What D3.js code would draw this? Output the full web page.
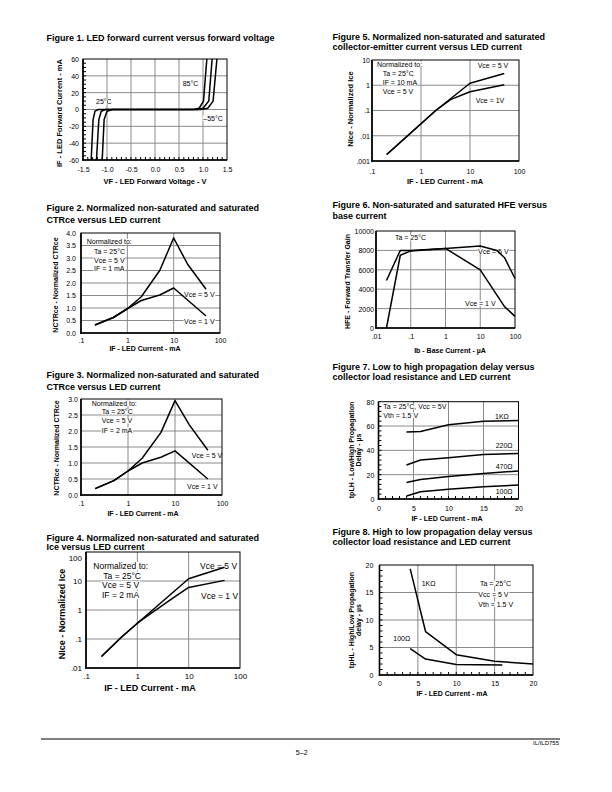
<!DOCTYPE html>
<html><head><meta charset="utf-8">
<script src="https://cdn.jsdelivr.net/npm/d3@7"></script>
<style>body{margin:0;background:#fff} text{font-family:"Liberation Sans",Arial,Helvetica,sans-serif}</style>
</head><body><svg id="c" width="612" height="792"></svg>
<script>
// ---------- DATA ----------
// Figure 1
const f1XTicks = [-1.5,-1.0,-0.5,0,0.5,1.0,1.5];
const f1XLabels = ["-1.5","-1.0","-0.5","0.0","0.5","1.0","1.5"];
const f1YTicks = [60,40,20,0,-20,-40,-60];
const f1YLabels = ["60","40","20","0","-20","-40","-60"];
const f1C85 = [[-1.33,-60],[-1.29,-12],[-1.25,-2],[-1.18,0],[0.80,0],[0.92,1.5],[1.01,10],[1.08,60]];
const f1C25 = [[-1.22,-60],[-1.17,-12],[-1.12,-2],[-1.03,0],[0.88,0],[1.00,1.5],[1.12,10],[1.19,60]];
const f1CM55 = [[-1.10,-60],[-1.06,-12],[-1.00,-2],[-0.88,0],[0.96,0],[1.10,1.5],[1.21,10],[1.29,60]];
// log axis ticks
const decX1 = [0.1,1,10,100];
const decX1Labels = [".1","1","10","100"];
// Figure 2
const f2YTicks = [0,0.5,1,1.5,2,2.5,3,3.5,4];
const f2YLabels = ["0.0","0.5","1.0","1.5","2.0","2.5","3.0","3.5","4.0"];
const f2Vce5 = [[0.2,0.32],[0.5,0.62],[1,0.97],[2,1.45],[5,2.5],[10,3.8],[20,2.75],[50,1.75]];
const f2Vce1 = [[0.2,0.32],[0.5,0.62],[1,0.97],[2,1.3],[5,1.52],[10,1.8],[50,0.68]];
// Figure 3
const f3YTicks = [0,0.5,1,1.5,2,2.5,3];
const f3YLabels = ["0.0","0.5","1.0","1.5","2.0","2.5","3.0"];
const f3Vce5 = [[0.2,0.2],[0.5,0.45],[1,0.75],[2,1.15],[5,1.95],[10,2.95],[20,2.2],[50,1.4]];
const f3Vce1 = [[0.2,0.2],[0.5,0.45],[1,0.75],[2,1.0],[5,1.18],[10,1.38],[50,0.5]];
// Figure 4
const f4YTicks = [0.01,0.1,1,10,100];
const f4YLabels = [".01",".1","1","10","100"];
const f4Vce5 = [[0.2,0.025],[0.5,0.12],[1,0.35],[10,12],[50,30]];
const f4Vce1 = [[0.2,0.025],[0.5,0.12],[1,0.35],[2,0.85],[5,2.6],[10,6],[50,10.5]];
// Figure 5
const f5YTicks = [0.001,0.01,0.1,1,10];
const f5YLabels = [".001",".01",".1","1","10"];
const f5Vce5 = [[0.2,0.0018],[1,0.03],[2,0.1],[10,1.2],[50,2.9]];
const f5Vce1 = [[0.2,0.0018],[1,0.03],[2,0.1],[4,0.27],[10,0.55],[50,1.05]];
// Figure 6
const f6XTicks = [0.01,0.1,1,10,100];
const f6XLabels = [".01",".1","1","10","100"];
const f6YTicks = [0,2000,4000,6000,8000,10000];
const f6YLabels = ["0","2000","4000","6000","8000","10000"];
const f6Vce5 = [[0.02,4900],[0.05,8000],[0.1,8000],[1,8200],[10,8450],[30,8000],[50,7250],[100,5100]];
const f6Vce1 = [[0.02,0],[0.05,7500],[0.1,7950],[1,8200],[10,6000],[50,2200],[100,1200]];
// Figure 7
const f7XTicks = [0,5,10,15,20];
const f7YTicks = [0,20,40,60,80];
const f7R1k = [[4,55],[6,55.5],[10,61],[15,64],[20,64.5]];
const f7R220 = [[4,28],[6,32],[10,34],[15,36.5],[20,37.5]];
const f7R470 = [[4,13.5],[6,16],[10,18.5],[15,21],[20,23]];
const f7R100 = [[4,2.5],[6,6],[10,8],[15,10],[20,11.5]];
// Figure 8
const f8XTicks = [0,5,10,15,20];
const f8YTicks = [0,5,10,15,20];
const f8R1k = [[4,19.3],[6,7.9],[10,3.7],[15,2.5],[20,2.0]];
const f8R100 = [[4,4.8],[6,2.9],[10,1.9],[16,1.8]];

// ---------- DRAWING ----------
const svg = d3.select("#c");
const FONT = '"Liberation Sans",Arial,Helvetica,sans-serif';

function addText(g, str, x, y, opt = {}) {
  const t = g.append("text").attr("x", x).attr("y", y).text(str)
    .attr("font-size", opt.fs || 7).attr("font-weight", opt.bold ? "bold" : "normal")
    .attr("text-anchor", opt.anchor || "start").attr("dominant-baseline", "central")
    .attr("fill", "#000");
  if (opt.rot) t.attr("transform", `rotate(-90,${x},${y})`);
  if (opt.bg) {
    const b = t.node().getBBox();
    g.insert("rect", () => t.node()).attr("x", b.x - 0.5).attr("y", b.y + 0.8)
      .attr("width", b.width + 1).attr("height", b.height - 1.6).attr("fill", "#fff");
  }
  return t;
}

function panel(o) {
  const g = svg.append("g");
  const x = (o.xlog ? d3.scaleLog() : d3.scaleLinear()).domain(o.xd).range([o.x0, o.x1]);
  const y = (o.ylog ? d3.scaleLog() : d3.scaleLinear()).domain(o.yd).range([o.y1, o.y0]);
  // grid
  g.append("g").selectAll("line").data(o.xgrid).join("line")
    .attr("x1", d => x(d)).attr("x2", d => x(d)).attr("y1", o.y0).attr("y2", o.y1)
    .attr("stroke", "#8a8a8a").attr("stroke-width", 1);
  g.append("g").selectAll("line").data(o.ygrid).join("line")
    .attr("y1", d => y(d)).attr("y2", d => y(d)).attr("x1", o.x0).attr("x2", o.x1)
    .attr("stroke", "#8a8a8a").attr("stroke-width", 1);
  // annotations
  (o.notes || []).forEach(n => addText(g, n[0], n[1], n[2], {fs: o.nfs || 7, bg: true}));
  // curves
  const line = d3.line().x(d => x(d[0])).y(d => y(d[1]));
  o.series.forEach(s => g.append("path").attr("d", line(s)).attr("fill", "none")
    .attr("stroke", "#000").attr("stroke-width", 1.5).attr("stroke-linejoin", "round"));
  // minor ticks
  if (o.xminor) g.append("g").selectAll("line").data(o.xminor).join("line")
    .attr("x1", d => x(d)).attr("x2", d => x(d)).attr("y1", o.y1).attr("y2", o.y1 - 3)
    .attr("stroke", "#000").attr("stroke-width", 1);
  if (o.yminor) g.append("g").selectAll("line").data(o.yminor).join("line")
    .attr("y1", d => y(d)).attr("y2", d => y(d)).attr("x1", o.x0).attr("x2", o.x0 + 3)
    .attr("stroke", "#000").attr("stroke-width", 1);
  // frame
  g.append("rect").attr("x", o.x0).attr("y", o.y0).attr("width", o.x1 - o.x0).attr("height", o.y1 - o.y0)
    .attr("fill", "none").attr("stroke", "#000").attr("stroke-width", 1);
  g.append("line").attr("x1", o.x0).attr("x2", o.x0).attr("y1", o.y0).attr("y2", o.y1 + 0.8)
    .attr("stroke", "#000").attr("stroke-width", 1.6);
  g.append("line").attr("x1", o.x0 - 0.8).attr("x2", o.x1).attr("y1", o.y1).attr("y2", o.y1)
    .attr("stroke", "#000").attr("stroke-width", 1.6);
  // axes labels
  const tfs = o.tfs || 7;
  const ay = g.append("g").attr("transform", `translate(${o.x0},0)`)
    .call(d3.axisLeft(y).tickValues(o.yt).tickFormat((d, i) => o.yl[i]).tickSize(0).tickPadding(o.x0 - o.ylx));
  ay.select(".domain").remove();
  ay.attr("font-size", tfs).attr("font-family", FONT);
  ay.selectAll("text").attr("dy", "0.35em");
  if (o.topNudge) ay.selectAll(".tick text").filter(d => d === o.yd[1]).attr("transform", `translate(0,${o.topNudge})`);
  const ax = g.append("g").attr("transform", `translate(0,${o.y1})`)
    .call(d3.axisBottom(x).tickValues(o.xt).tickFormat((d, i) => o.xl[i]).tickSize(0).tickPadding(o.xly - o.y1 - 0.35 * tfs));
  ax.select(".domain").remove();
  ax.attr("font-size", tfs).attr("font-family", FONT);
  ax.selectAll("text").attr("dy", "0.71em");
  // axis titles
  addText(g, o.xtitle, o.xtx, o.xty, {fs: o.afs || 7.5, bold: true, anchor: "middle"});
  o.ytitle.forEach((t, i) => addText(g, t, o.ytx[i], o.yty, {fs: o.afs || 7.5, bold: true, anchor: "middle", rot: true}));
  // figure titles
  o.title.forEach((t, i) => addText(g, t, o.tx, o.ty[i], {fs: 9, bold: true}));
}

const L = 46.5, R = 332.5;

panel({
  x0: 83, x1: 227, y0: 59, y1: 160, xd: [-1.5, 1.5], yd: [-60, 60],
  xgrid: [-1, -0.5, 0, 0.5, 1], ygrid: [-40, -20, 0, 20, 40],
  xminor: d3.range(-14, 15).map(v => v / 10), yminor: d3.range(-55, 60, 5),
  xt: f1XTicks, xl: f1XLabels, yt: f1YTicks, yl: f1YLabels, ylx: 79, xly: 169.5,
  series: [f1C85, f1C25, f1CM55],
  notes: [["85°C", 182.7, 83], ["25°C", 96, 101.7], ["\u201355°C", 203.3, 118.3]],
  xtitle: "VF - LED  Forward Voltage - V", xtx: 155, xty: 181.7,
  ytitle: ["IF - LED  Forward Current - mA"], ytx: [59], yty: 113,
  title: ["Figure 1.  LED forward current versus forward voltage"], tx: L, ty: [37.5]
});

panel({
  x0: 81, x1: 220, y0: 233, y1: 333, xlog: true, xd: [0.1, 100], yd: [0, 4],
  xgrid: [1, 10], ygrid: [0.5, 1, 1.5, 2, 2.5, 3, 3.5],
  xt: decX1, xl: decX1Labels, yt: f2YTicks, yl: f2YLabels, ylx: 76, xly: 340,
  series: [f2Vce5, f2Vce1],
  notes: [["Normalized to:", 86.7, 241.7], ["Ta = 25°C", 94, 251.7], ["Vce = 5 V", 94, 260],
          ["IF = 1 mA", 94, 268.3], ["Vce = 5 V", 184, 294], ["Vce = 1 V", 184, 321.7]],
  xtitle: "IF - LED Current - mA", xtx: 145, xty: 348.5,
  ytitle: ["NCTRce - Normalized CTRce"], ytx: [55], yty: 285, afs: 7,
  title: ["Figure 2.  Normalized non-saturated and saturated", "CTRce versus LED current"], tx: L, ty: [208, 219.8]
});

panel({
  x0: 81, x1: 222, y0: 399, y1: 495, xlog: true, xd: [0.1, 100], yd: [0, 3],
  xgrid: [1, 10], ygrid: [0.5, 1, 1.5, 2, 2.5],
  xt: decX1, xl: decX1Labels, yt: f3YTicks, yl: f3YLabels, ylx: 78, xly: 503,
  series: [f3Vce5, f3Vce1],
  notes: [["Normalized to:", 91.7, 403.3], ["Ta = 25°C", 101.7, 411.7], ["Vce = 5 V", 101.7, 420.7],
          ["IF = 2 mA", 101.7, 430], ["Vce = 5 V", 191.7, 455.5], ["Vce = 1 V", 187, 486.5]],
  xtitle: "IF - LED Current - mA", xtx: 143, xty: 513,
  ytitle: ["NCTRce - Normalized CTRce"], ytx: [56], yty: 448, afs: 7,
  title: ["Figure 3.  Normalized non-saturated and saturated", "CTRce versus LED current"], tx: L, ty: [375, 386.7]
});

panel({
  x0: 86, x1: 240, y0: 552, y1: 668, xlog: true, ylog: true, xd: [0.1, 100], yd: [0.01, 100],
  xgrid: [1, 10], ygrid: [0.1, 1, 10],
  xt: decX1, xl: decX1Labels, yt: f4YTicks, yl: f4YLabels, ylx: 82, xly: 676, tfs: 8, topNudge: 5.5,
  series: [f4Vce5, f4Vce1], nfs: 8.5,
  notes: [["Normalized to:", 93.3, 566], ["Ta = 25°C", 103.3, 575.7], ["Vce = 5 V", 102, 585.3],
          ["IF = 2 mA", 102, 595], ["Vce = 5 V", 200, 566], ["Vce = 1 V", 201, 595.7]],
  xtitle: "IF - LED Current - mA", xtx: 150, xty: 687.5, afs: 9,
  ytitle: ["NIce - Normalized Ice"], ytx: [62], yty: 614,
  title: ["Figure 4.  Normalized non-saturated and saturated", "Ice versus LED current"], tx: L, ty: [537.6, 546.6]
});

panel({
  x0: 372, x1: 519, y0: 60, y1: 161, xlog: true, ylog: true, xd: [0.1, 100], yd: [0.001, 10],
  xgrid: [1, 10], ygrid: [0.01, 0.1, 1],
  xt: decX1, xl: decX1Labels, yt: f5YTicks, yl: f5YLabels, ylx: 370, xly: 171,
  series: [f5Vce5, f5Vce1],
  notes: [["Normalized to:", 377, 64.3], ["Ta = 25°C", 382.7, 73.3], ["IF = 10 mA", 382.7, 82.7],
          ["Vce = 5 V", 382.7, 91.7], ["Vce = 5 V", 477.7, 65], ["Vce = 1V", 475.7, 100.7]],
  xtitle: "IF - LED Current - mA", xtx: 445, xty: 181.7,
  ytitle: ["NIce - Normalized Ice"], ytx: [350], yty: 109,
  title: ["Figure 5.  Normalized non-saturated and saturated", "collector-emitter current versus LED current"], tx: R, ty: [36.8, 47.3]
});

panel({
  x0: 376, x1: 515, y0: 231, y1: 328, xlog: true, xd: [0.01, 100], yd: [0, 10000],
  xgrid: [0.1, 1, 10], ygrid: [2000, 4000, 6000, 8000],
  xt: f6XTicks, xl: f6XLabels, yt: f6YTicks, yl: f6YLabels, ylx: 374, xly: 336.7,
  series: [f6Vce5, f6Vce1],
  notes: [["Ta = 25°C", 395, 237.7], ["Vce = 5 V", 478, 251.5], ["Vce = 1 V", 465, 303.3]],
  xtitle: "Ib - Base Current - \u00b5A", xtx: 450, xty: 350,
  ytitle: ["HFE - Forward Transfer Gain"], ytx: [347], yty: 281.5, afs: 7,
  title: ["Figure 6.  Non-saturated and saturated HFE versus", "base current"], tx: R, ty: [205, 215.8]
});

panel({
  x0: 378.5, x1: 518.5, y0: 401.7, y1: 499, xd: [0, 20], yd: [0, 80],
  xgrid: [5, 10, 15], ygrid: [20, 40, 60],
  xminor: d3.range(1, 20), yminor: d3.range(4, 80, 4),
  xt: f7XTicks, xl: f7XTicks.map(String), yt: f7YTicks, yl: f7YTicks.map(String), ylx: 374.3, xly: 508.3,
  series: [f7R1k, f7R220, f7R470, f7R100],
  notes: [["Ta = 25°C, Vcc = 5V", 383.3, 406.7], ["Vth = 1.5 V", 383.3, 415], ["1K\u03a9", 495, 416.7],
          ["220\u03a9", 495.7, 445], ["470\u03a9", 495.7, 466.7], ["100\u03a9", 495.7, 491.7]],
  xtitle: "IF - LED Current - mA", xtx: 447, xty: 518.5,
  ytitle: ["tpLH - Low/High Propagation", "Delay - \u00b5s"], ytx: [351.7, 358.5], yty: 450, afs: 7,
  title: ["Figure 7.  Low to high propagation delay versus", "collector load resistance and LED current"], tx: R, ty: [366.8, 376.8]
});

panel({
  x0: 379.5, x1: 533, y0: 565, y1: 675, xd: [0, 20], yd: [0, 20],
  xgrid: [5, 10, 15], ygrid: [5, 10, 15],
  xminor: d3.range(1, 20), yminor: d3.range(1, 20),
  xt: f8XTicks, xl: f8XTicks.map(String), yt: f8YTicks, yl: f8YTicks.map(String), ylx: 373.3, xly: 683.3,
  series: [f8R1k, f8R100],
  notes: [["1K\u03a9", 421.7, 583.3], ["Ta = 25°C", 480, 583.3], ["Vcc = 5 V", 478.3, 594.3],
          ["Vth = 1.5 V", 478.3, 604.3], ["100\u03a9", 393.3, 638.3]],
  xtitle: "IF - LED Current - mA", xtx: 452, xty: 693,
  ytitle: ["tpHL - High/Low Propagation", "delay - \u00b5s"], ytx: [351.7, 358.5], yty: 620, afs: 7,
  title: ["Figure 8.  High to low propagation delay versus", "collector load resistance and LED current"], tx: R, ty: [531.8, 541.8]
});

// footer
svg.append("line").attr("x1", 41).attr("x2", 560).attr("y1", 739).attr("y2", 739)
  .attr("stroke", "#000").attr("stroke-width", 1);
addText(svg, "IL/ILD755", 559, 743.3, {fs: 6, anchor: "end"});
addText(svg, "5\u20132", 301.7, 752.7, {fs: 7, anchor: "middle"});
</script></body></html>
